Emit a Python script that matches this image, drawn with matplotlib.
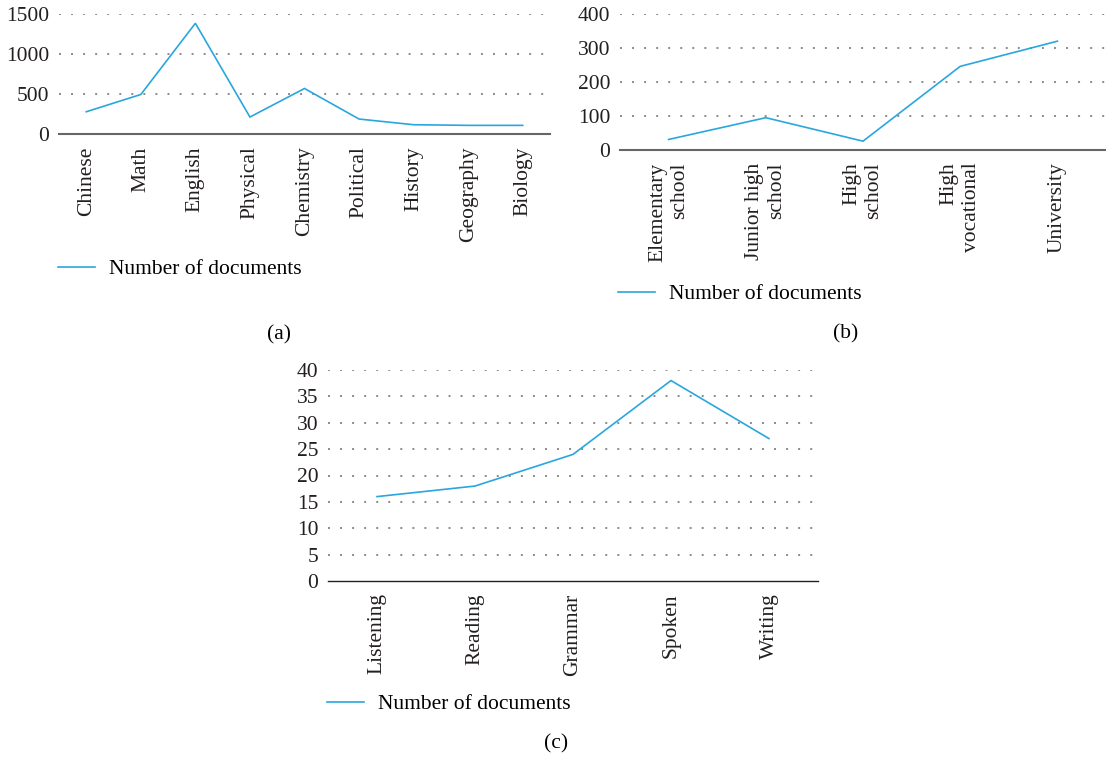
import numpy as np
import matplotlib
matplotlib.use('Agg')
import matplotlib.pyplot as plt

# 各学科文献数量
subjects = ['Chinese', 'Math', 'English', 'Physical', 'Chemistry',
            'Political', 'History', 'Geography', 'Biology']
subject_docs = [278, 494, 1384, 212, 569, 187, 116, 108, 108]

# 各学段文献数量
stages = ['Elementary\nschool', 'Junior high\nschool', 'High\nschool',
          'High\nvocational', 'University']
stage_docs = [31, 95, 26, 246, 320]

# 各技能文献数量
skills = ['Listening', 'Reading', 'Grammar', 'Spoken', 'Writing']
skill_docs = [16, 18, 24, 38, 27]

LINE_COLOR = '#2aa6df'
W, H = 1106, 759

plt.rcParams['font.family'] = ['Liberation Serif', 'DejaVu Serif']
plt.rcParams['font.size'] = 15.5

fig = plt.figure(figsize=(W / 100, H / 100), dpi=100)


def px_axes(left, right, top, bottom):
    # 以像素坐标建立子图
    return fig.add_axes([left / W, 1 - bottom / H, (right - left) / W, (bottom - top) / H])


def draw_panel(ax, labels, values, ymax, ystep, spine_color, spine_w):
    x = np.arange(len(labels))
    line, = ax.plot(x, values, color=LINE_COLOR, lw=1.2, solid_joinstyle='miter')
    ax.set_xlim(-0.5, len(labels) - 0.5)
    ax.set_ylim(0, ymax)
    ax.set_yticks(np.arange(0, ymax + 1, ystep))
    ax.set_xticks(x)
    ax.set_xticklabels(labels, rotation=90, multialignment='right')
    ax.tick_params(axis='both', length=0, colors='#231f20')
    ax.tick_params(axis='y', pad=7)
    ax.tick_params(axis='x', pad=9)
    for s in ['top', 'left', 'right']:
        ax.spines[s].set_visible(False)
    ax.spines['bottom'].set_color(spine_color)
    ax.spines['bottom'].set_linewidth(spine_w)
    ax.spines['bottom'].set_zorder(3)
    # 点状网格线
    for yv in np.arange(ystep, ymax + 1, ystep):
        ax.axhline(yv, color='#8a8a8a', lw=1.4, linestyle=(0, (1, 5.2)),
                   dash_capstyle='butt', zorder=0)
    return line


def add_legend(line, lx, ly):
    fig.legend([line], ['Number of documents'], loc='center left',
               bbox_to_anchor=(lx / W, 1 - ly / H), frameon=False,
               handlelength=1.7, handletextpad=0.65, borderpad=0,
               borderaxespad=0, fontsize=15.5)


ax_a = px_axes(59, 550, 14, 134)
la = draw_panel(ax_a, subjects, subject_docs, 1500, 500, '#666666', 1.5)
add_legend(la, 58, 269)
fig.text(279, H - 335, '(a)', transform=None, ha='center', va='center', fontsize=15.5)

ax_b = px_axes(620, 1106, 14, 150)
lb = draw_panel(ax_b, stages, stage_docs, 400, 100, '#666666', 1.5)
add_legend(lb, 618, 294)
fig.text(846, H - 334, '(b)', transform=None, ha='center', va='center', fontsize=15.5)

ax_c = px_axes(328, 818, 370, 581)
lc = draw_panel(ax_c, skills, skill_docs, 40, 5, '#231f20', 1.0)
add_legend(lc, 327, 704)
fig.text(556, H - 744, '(c)', transform=None, ha='center', va='center', fontsize=15.5)

plt.savefig('out.png', dpi=100)
